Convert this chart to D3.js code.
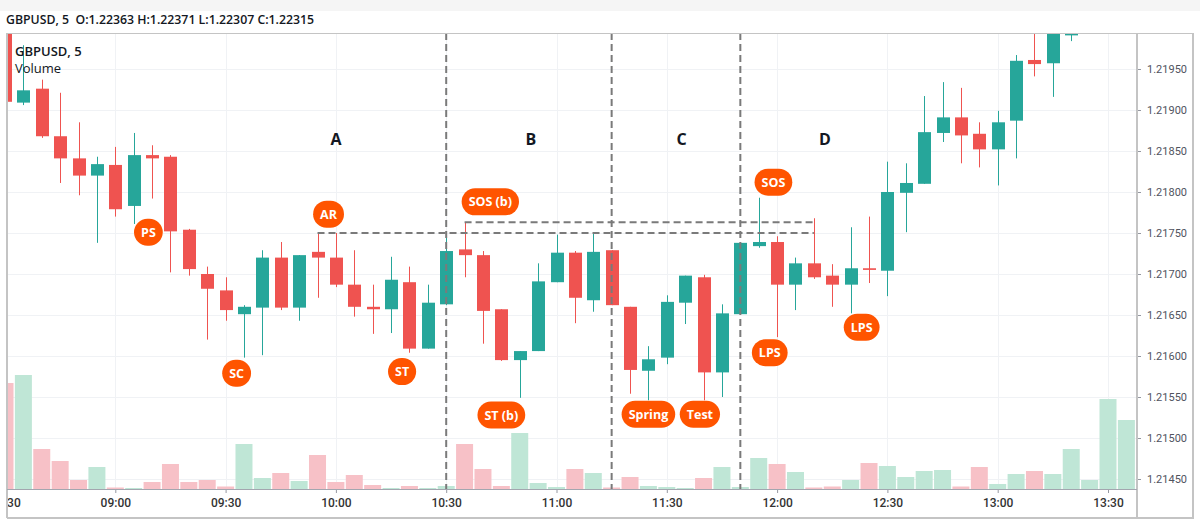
<!DOCTYPE html>
<html>
<head>
<meta charset="utf-8">
<script src="https://cdn.jsdelivr.net/npm/d3@7"></script>
<style>
body { margin: 0; background: #fff; }
svg { display: block; font-family: "Open Sans", sans-serif; }
</style>
</head>
<body>
<div id="chart"></div>
<script>
var W = 1200, H = 523;
var plotL = 7, plotT = 33, plotR = 1137, plotB = 489, frameR = 1193, frameB = 518;

var up = "#26a69a", down = "#ef5350";
var upVol = "#bfe6d6", downVol = "#f7c1c7";
var tag = "#ff5400";

// 5 minute bars
var times = ["08:30","08:35","08:40","08:45","08:50","08:55","09:00","09:05","09:10","09:15",
	"09:20","09:25","09:30","09:35","09:40","09:45","09:50","09:55","10:00","10:05",
	"10:10","10:15","10:20","10:25","10:30","10:35","10:40","10:45","10:50","10:55",
	"11:00","11:05","11:10","11:15","11:20","11:25","11:30","11:35","11:40","11:45",
	"11:50","11:55","12:00","12:05","12:10","12:15","12:20","12:25","12:30","12:35",
	"12:40","12:45","12:50","12:55","13:00","13:05","13:10","13:15","13:20","13:25",
	"13:30","13:35"];
var open = [1.22010,1.21909,1.21926,1.21868,1.21841,1.21820,1.21833,1.21783,1.21845,1.21843,
	1.21754,1.21700,1.21680,1.21651,1.21659,1.21720,1.21659,1.21727,1.21720,1.21687,
	1.21660,1.21657,1.21690,1.21609,1.21663,1.21730,1.21723,1.21657,1.21595,1.21606,
	1.21690,1.21726,1.21668,1.21729,1.21660,1.21582,1.21598,1.21665,1.21696,1.21580,
	1.21651,1.21734,1.21739,1.21687,1.21713,1.21698,1.21687,1.21707,1.21704,1.21799,
	1.21810,1.21872,1.21891,1.21871,1.21852,1.21887,1.21961,1.21957,1.21991,1.22062,
	1.22148,1.22290];
var high = [1.22030,1.21979,1.21937,1.21921,1.21885,1.21843,1.21855,1.21872,1.21857,1.21845,
	1.21755,1.21709,1.21696,1.21662,1.21729,1.21739,1.21723,1.21750,1.21750,1.21729,
	1.21687,1.21721,1.21709,1.21687,1.21748,1.21763,1.21728,1.21657,1.21606,1.21713,
	1.21748,1.21728,1.21750,1.21729,1.21660,1.21612,1.21674,1.21698,1.21699,1.21663,
	1.21738,1.21793,1.21746,1.21720,1.21768,1.21712,1.21757,1.21770,1.21837,1.21835,
	1.21917,1.21934,1.21927,1.21885,1.21899,1.21967,1.22005,1.22025,1.22080,1.22160,
	1.22300,1.22380];
var low = [1.21909,1.21906,1.21866,1.21811,1.21796,1.21738,1.21770,1.21761,1.21792,1.21702,
	1.21698,1.21620,1.21643,1.21598,1.21601,1.21656,1.21643,1.21671,1.21684,1.21648,
	1.21627,1.21628,1.21604,1.21609,1.21662,1.21696,1.21615,1.21594,1.21549,1.21606,
	1.21690,1.21640,1.21654,1.21662,1.21554,1.21546,1.21590,1.21639,1.21546,1.21550,
	1.21651,1.21732,1.21623,1.21656,1.21694,1.21660,1.21652,1.21689,1.21673,1.21751,
	1.21810,1.21861,1.21835,1.21830,1.21808,1.21841,1.21941,1.21916,1.21984,1.22040,
	1.22130,1.22270];
var close = [1.21910,1.21924,1.21868,1.21841,1.21820,1.21834,1.21779,1.21845,1.21841,1.21752,
	1.21706,1.21682,1.21656,1.21660,1.21720,1.21659,1.21723,1.21720,1.21687,1.21660,
	1.21657,1.21693,1.21609,1.21665,1.21728,1.21723,1.21655,1.21595,1.21606,1.21691,
	1.21726,1.21671,1.21727,1.21662,1.21583,1.21596,1.21666,1.21698,1.21580,1.21652,
	1.21738,1.21739,1.21687,1.21713,1.21696,1.21687,1.21707,1.21705,1.21800,1.21811,
	1.21873,1.21891,1.21869,1.21852,1.21885,1.21960,1.21956,1.22015,1.22060,1.22150,
	1.22290,1.22363];
var volume = [1060,1140,400,280,90,220,15,10,70,250,
	70,90,25,450,110,160,80,340,70,140,
	40,10,30,10,30,450,200,30,560,60,
	20,200,160,15,120,30,20,10,110,220,
	20,310,250,170,15,25,90,260,230,120,
	180,190,25,220,50,150,180,150,400,90,
	900,690];

var priceTicks = [1.21450,1.21500,1.21550,1.21600,1.21650,1.21700,1.21750,1.21800,1.21850,1.21900,1.21950];

// Wyckoff phases
var phaseLabels = ["A","B","C","D"];
var phaseTimes = ["10:00","10:53","11:34","12:13"];
var phasePrice = 1.21865;
var dividerTimes = ["10:30","11:15","11:50"];
var levelPrices = [1.21763, 1.21750];
var levelFrom = ["10:35","09:55"];
var levelTo = "12:10";

// event tags
var tagLabels = ["PS","SC","AR","ST","SOS (b)","ST (b)","Spring","Test","SOS","LPS","LPS"];
var tagTimes = ["09:09","09:33","09:58","10:18","10:42","10:45","11:25","11:39","11:59","11:58","12:23"];
var tagPrices = [1.21751,1.21579,1.21773,1.21581,1.21788,1.21528,1.21529,1.21529,1.21812,1.21604,1.21635];

var parseT = d3.timeParse("%H:%M");
var x = d3.scaleTime().domain([parseT("08:30"), parseT("13:30")]).range([5, 1108]);
var y = d3.scaleLinear().domain([1.21450, 1.21950]).range([479, 69]);
var yv = d3.scaleLinear().domain([0, 1000]).range([plotB, plotB - 100]);

var svg = d3.select("#chart").append("svg")
	.attr("width", W)
	.attr("height", H);

svg.append("rect").attr("x", 0).attr("y", 0).attr("width", W).attr("height", 11).attr("fill", "#f5f5f5");

var defs = svg.append("defs");
defs.append("clipPath").attr("id", "plot")
	.append("rect").attr("x", plotL).attr("y", plotT).attr("width", plotR - plotL).attr("height", plotB - plotT);
defs.append("clipPath").attr("id", "xlab")
	.append("rect").attr("x", plotL + 1).attr("y", 0).attr("width", plotR - plotL).attr("height", 28);

// grid
var grid = svg.append("g").attr("clip-path", "url(#plot)");
grid.selectAll(".hg").data(priceTicks).enter().append("line")
	.attr("x1", plotL).attr("x2", plotR)
	.attr("y1", d => Math.round(y(d)) + 0.5).attr("y2", d => Math.round(y(d)) + 0.5)
	.attr("stroke", "#f0f2f5");
grid.selectAll(".vg").data(x.ticks(d3.timeMinute.every(30))).enter().append("line")
	.attr("x1", d => Math.round(x(d)) + 0.5).attr("x2", d => Math.round(x(d)) + 0.5)
	.attr("y1", plotT).attr("y2", plotB)
	.attr("stroke", "#f0f2f5");

var bars = times.map((t, i) => ({t: parseT(t), o: open[i], h: high[i], l: low[i], c: close[i], v: volume[i]}));

var plot = svg.append("g").attr("clip-path", "url(#plot)");

// volume
plot.selectAll(".vol").data(bars).enter().append("rect")
	.attr("x", d => x(d.t) - 8.5)
	.attr("width", 17)
	.attr("y", d => yv(d.v))
	.attr("height", d => plotB - yv(d.v))
	.attr("fill", d => d.c >= d.o ? upVol : downVol);

// candles
plot.selectAll(".wick").data(bars).enter().append("line")
	.attr("x1", d => Math.round(x(d.t)) + 0.5).attr("x2", d => Math.round(x(d.t)) + 0.5)
	.attr("y1", d => y(d.h)).attr("y2", d => y(d.l))
	.attr("stroke", d => d.c >= d.o ? up : down)
	.attr("stroke-width", 1);
plot.selectAll(".body").data(bars).enter().append("rect")
	.attr("x", d => Math.round(x(d.t)) - 6)
	.attr("width", 13)
	.attr("y", d => y(Math.max(d.o, d.c)))
	.attr("height", d => Math.max(1.6, Math.abs(y(d.o) - y(d.c))))
	.attr("fill", d => d.c >= d.o ? up : down);

// range lines
var dash = "#7a7a7a";
plot.selectAll(".div").data(dividerTimes).enter().append("line")
	.attr("x1", d => x(parseT(d))).attr("x2", d => x(parseT(d)))
	.attr("y1", plotT).attr("y2", plotB)
	.attr("stroke", dash).attr("stroke-width", 2).attr("stroke-dasharray", "7,4");
plot.selectAll(".lvl").data(levelPrices).enter().append("line")
	.attr("x1", (d, i) => x(parseT(levelFrom[i]))).attr("x2", x(parseT(levelTo)))
	.attr("y1", d => y(d)).attr("y2", d => y(d))
	.attr("stroke", dash).attr("stroke-width", 2).attr("stroke-dasharray", "7,4");

// phase letters
plot.selectAll(".phase").data(phaseLabels).enter().append("text")
	.attr("x", (d, i) => x(parseT(phaseTimes[i])))
	.attr("y", y(phasePrice) + 6)
	.attr("text-anchor", "middle")
	.style("font-size", "16px")
	.style("font-weight", "bold")
	.attr("fill", "#131722")
	.text(d => d);

// tags
var tags = plot.selectAll(".tag").data(tagLabels).enter().append("g")
	.attr("transform", (d, i) => "translate(" + x(parseT(tagTimes[i])) + "," + y(tagPrices[i]) + ")");
tags.append("rect")
	.attr("y", -13.5).attr("height", 27).attr("rx", 13.5)
	.attr("fill", tag);
tags.append("text")
	.attr("text-anchor", "middle")
	.attr("y", 4.5)
	.style("font-size", "12.5px")
	.style("font-weight", "bold")
	.attr("fill", "#fff")
	.text(d => d);
tags.each(function() {
	var g = d3.select(this);
	var w = Math.max(27, g.select("text").node().getComputedTextLength() + 14);
	g.select("rect").attr("x", -w / 2).attr("width", w);
});

// axes
var xAxis = svg.append("g")
	.attr("transform", "translate(0," + plotB + ")")
	.attr("clip-path", "url(#xlab)")
	.call(d3.axisBottom(x).ticks(d3.timeMinute.every(30)).tickFormat(d3.timeFormat("%H:%M")).tickSize(4).tickPadding(5));
xAxis.select(".domain").remove();
xAxis.selectAll("line").attr("stroke", "#9598a1");
xAxis.selectAll("text").style("font-size", "12px").style("font-family", "Roboto, sans-serif")
	.style("font-weight", 500).attr("fill", "#333");

var yAxis = svg.append("g")
	.attr("transform", "translate(" + plotR + ",0)")
	.call(d3.axisRight(y).tickValues(priceTicks).tickFormat(d3.format(".5f")).tickSize(4).tickPadding(6));
yAxis.select(".domain").remove();
yAxis.selectAll("line").attr("stroke", "#9598a1");
yAxis.selectAll("text").style("font-size", "11px").style("font-family", "Roboto, sans-serif").attr("fill", "#50535e");

// frame
var frame = "#c4c4c4";
svg.append("line").attr("x1", plotL).attr("x2", frameR).attr("y1", plotT + 0.5).attr("y2", plotT + 0.5).attr("stroke", frame);
svg.append("line").attr("x1", plotL).attr("x2", frameR + 1).attr("y1", frameB).attr("y2", frameB).attr("stroke", frame).attr("stroke-width", 2);
svg.append("line").attr("x1", plotL).attr("x2", plotL).attr("y1", plotT).attr("y2", frameB).attr("stroke", frame).attr("stroke-width", 2);
svg.append("line").attr("x1", frameR).attr("x2", frameR).attr("y1", plotT).attr("y2", frameB).attr("stroke", frame).attr("stroke-width", 2);
svg.append("line").attr("x1", plotR).attr("x2", plotR).attr("y1", plotT).attr("y2", frameB).attr("stroke", frame).attr("stroke-width", 2);
svg.append("line").attr("x1", plotL).attr("x2", plotR).attr("y1", plotB + 0.5).attr("y2", plotB + 0.5).attr("stroke", "#a3a6af");

// header + legend
svg.append("text").attr("x", 6).attr("y", 24)
	.attr("xml:space", "preserve")
	.style("font-size", "12.3px").style("font-weight", 600).attr("fill", "#131722")
	.text("GBPUSD, 5  O:1.22363 H:1.22371 L:1.22307 C:1.22315");
svg.append("text").attr("x", 15).attr("y", 56)
	.style("font-size", "13px").style("font-weight", 600).attr("fill", "#131722")
	.text("GBPUSD, 5");
svg.append("text").attr("x", 15).attr("y", 73)
	.style("font-size", "13px").attr("fill", "#131722")
	.text("Volume");
</script>
</body>
</html>
